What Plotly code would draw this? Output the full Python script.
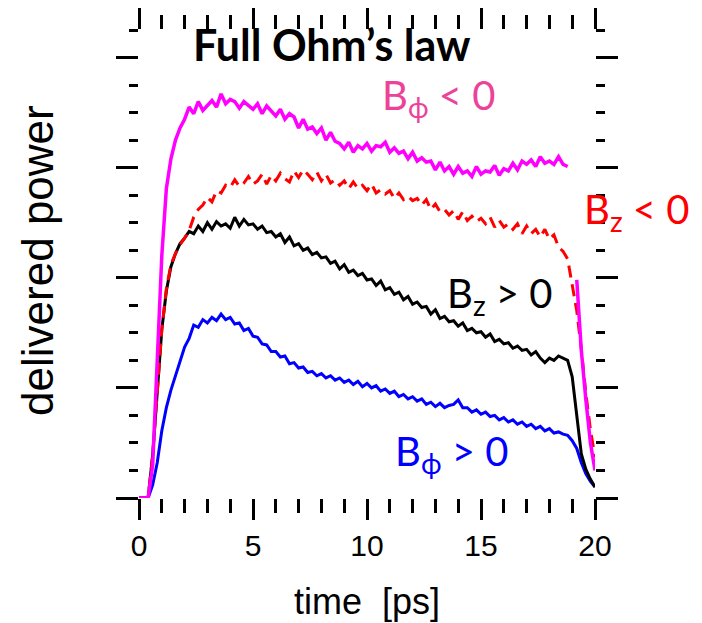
import plotly.graph_objects as go

# sampling grid (ps), 0.2 ps steps
time_ps = [round(i * 0.2, 1) for i in range(101)]

# B_phi < 0 (magenta)
p_bphi_neg = [
    0, 0, 0, 0.30, 1.29, 2.20, 2.81, 3.08, 3.25, 3.36,
    3.44, 3.55, 3.49, 3.60, 3.52, 3.57, 3.61, 3.55, 3.67, 3.58,
    3.62, 3.60, 3.54, 3.60, 3.56, 3.53, 3.58, 3.49, 3.56, 3.51,
    3.47, 3.53, 3.44, 3.49, 3.46, 3.36, 3.44, 3.35, 3.37, 3.31,
    3.36, 3.25, 3.32, 3.24, 3.22, 3.17, 3.23, 3.14, 3.20, 3.17,
    3.22, 3.15, 3.20, 3.19, 3.23, 3.14, 3.18, 3.13, 3.15, 3.08,
    3.14, 3.06, 3.09, 3.05, 3.06, 2.98, 3.05, 2.97, 3.01, 2.94,
    3.01, 2.95, 2.97, 2.92, 3.01, 2.94, 2.97, 2.96, 3.02, 2.93,
    2.99, 2.97, 3.04, 2.98, 3.06, 3.03, 3.07, 3.01, 3.10, 3.04,
    3.06, 3.03, 3.10, 3.03, 3.01, None, 1.98, 1.34, 0.89, 0.50,
    0.25,
]

# B_z < 0 (red dashed)
p_bz_neg = [
    0, 0, 0, 0.39, 0.96, 1.53, 1.90, 2.12, 2.22, 2.30,
    2.36, 2.43, 2.55, 2.62, 2.66, 2.73, 2.69, 2.79, 2.77, 2.84,
    2.82, 2.89, 2.83, 2.86, 2.92, 2.85, 2.88, 2.94, 2.85, 2.93,
    2.88, 2.95, 2.90, 2.87, 2.97, 2.91, 2.98, 2.94, 2.89, 2.96,
    2.88, 2.94, 2.86, 2.89, 2.84, 2.88, 2.81, 2.87, 2.81, 2.84,
    2.79, 2.85, 2.77, 2.80, 2.76, 2.79, 2.72, 2.77, 2.71, 2.74,
    2.70, 2.72, 2.66, 2.71, 2.62, 2.67, 2.60, 2.62, 2.57, 2.61,
    2.53, 2.60, 2.52, 2.56, 2.51, 2.54, 2.49, 2.55, 2.46, 2.52,
    2.46, 2.49, 2.44, 2.49, 2.40, 2.47, 2.40, 2.44, 2.37, 2.44,
    2.35, 2.39, 2.28, 2.24, 2.17, 1.95, 1.70, 1.35, 0.95, 0.62,
    0.37,
]

# B_z > 0 (black)
p_bz_pos = [
    0, 0, 0, 0.39, 0.96, 1.53, 1.88, 2.10, 2.22, 2.31,
    2.36, 2.42, 2.40, 2.47, 2.42, 2.50, 2.44, 2.51, 2.47, 2.49,
    2.45, 2.55, 2.47, 2.53, 2.48, 2.49, 2.44, 2.47, 2.41, 2.42,
    2.37, 2.40, 2.32, 2.37, 2.29, 2.31, 2.25, 2.27, 2.21, 2.23,
    2.18, 2.19, 2.13, 2.15, 2.08, 2.12, 2.05, 2.07, 2.02, 2.04,
    1.98, 1.99, 1.93, 1.97, 1.89, 1.91, 1.85, 1.87, 1.80, 1.83,
    1.76, 1.78, 1.73, 1.74, 1.67, 1.71, 1.63, 1.65, 1.60, 1.61,
    1.56, 1.59, 1.52, 1.54, 1.50, 1.51, 1.46, 1.49, 1.42, 1.44,
    1.40, 1.41, 1.36, 1.38, 1.34, 1.35, 1.30, 1.33, 1.27, 1.23,
    1.27, 1.25, 1.29, 1.27, 1.25, 1.10, 0.75, 0.40, 0.26, 0.17,
    0.10,
]

# B_phi > 0 (blue)
p_bphi_pos = [
    0, 0, 0, 0.12, 0.32, 0.61, 0.82, 0.98, 1.11, 1.24,
    1.37, 1.45, 1.57, 1.55, 1.62, 1.59, 1.64, 1.61, 1.67, 1.62,
    1.64, 1.58, 1.59, 1.52, 1.54, 1.47, 1.46, 1.40, 1.39, 1.33,
    1.33, 1.28, 1.29, 1.22, 1.23, 1.18, 1.19, 1.14, 1.15, 1.11,
    1.13, 1.09, 1.11, 1.07, 1.09, 1.05, 1.07, 1.03, 1.06, 1.01,
    1.04, 1.00, 1.02, 0.97, 0.99, 0.95, 0.97, 0.92, 0.94, 0.90,
    0.92, 0.88, 0.90, 0.85, 0.87, 0.83, 0.86, 0.82, 0.84, 0.85,
    0.89, 0.82, 0.82, 0.78, 0.80, 0.76, 0.78, 0.74, 0.75, 0.71,
    0.73, 0.69, 0.71, 0.67, 0.69, 0.65, 0.67, 0.63, 0.65, 0.61,
    0.63, 0.59, 0.60, 0.58, 0.57, 0.52, 0.45, 0.32, 0.22, 0.15,
    0.10,
]

x_tick_vals = [0, 5, 10, 15, 20]
x_tick_text = ["0", "5", "10", "15", "20"]
y_major_ticks = [0, 1, 2, 3, 4]
y_mid_ticks = [0.5, 1.5, 2.5, 3.5]

title_text = "<b>Full Ohm’s law</b>"
x_title = "time\u00a0 [ps]"
y_title = "delivered power"

labels = [
    # text, x, y, colour
    ("B<sub>ϕ</sub> &lt; 0", 10.55, 3.64, "#EC4399"),
    ("B<sub>z</sub> &lt; 0", 19.42, 2.60, "#FF0000"),
    ("B<sub>z</sub> &gt; 0", 13.4, 1.84, "#000000"),
    ("B<sub>ϕ</sub> &gt; 0", 11.15, 0.40, "#0000FF"),
]

fig = go.Figure()
fig.add_trace(go.Scatter(x=time_ps, y=p_bphi_pos, mode="lines",
                         line=dict(color="#0000FF", width=3), connectgaps=False))
fig.add_trace(go.Scatter(x=time_ps, y=p_bz_pos, mode="lines",
                         line=dict(color="#000000", width=3), connectgaps=False))
fig.add_trace(go.Scatter(x=time_ps, y=p_bz_neg, mode="lines",
                         line=dict(color="#FF0000", width=3, dash="12px,7px"), connectgaps=False))
fig.add_trace(go.Scatter(x=time_ps, y=p_bphi_neg, mode="lines",
                         line=dict(color="#FF00FF", width=3.5), connectgaps=False))

for txt, lx, ly, col in labels:
    fig.add_annotation(x=lx, y=ly, xref="x", yref="y", text=txt, showarrow=False,
                       xanchor="left", yanchor="middle",
                       font=dict(family="Lato", size=40, color=col))

fig.add_annotation(x=0.423, y=1.0, xref="paper", yref="paper", text=title_text,
                   showarrow=False, xanchor="center", yanchor="middle",
                   yshift=-14,
                   font=dict(family="Lato", size=43, color="#000000"))
fig.add_annotation(x=0.5, y=-0.222, xref="paper", yref="paper", text=x_title,
                   showarrow=False, xanchor="center", yanchor="middle",
                   font=dict(family="Liberation Sans", size=36, color="#000000"))
fig.add_annotation(x=-0.2223, y=0.508, xref="paper", yref="paper", text=y_title,
                   showarrow=False, xanchor="center", yanchor="middle", textangle=-90,
                   font=dict(family="Liberation Sans", size=44, color="#000000"))

fig.update_layout(
    width=702, height=623,
    margin=dict(l=139, r=107, t=30, b=125, pad=0),
    paper_bgcolor="white", plot_bgcolor="white",
    showlegend=False, hovermode=False,
    xaxis=dict(range=[0, 20], tickvals=x_tick_vals, ticktext=x_tick_text,
               ticks="outside", ticklen=21, tickwidth=3, tickcolor="black",
               minor=dict(dtick=1, tick0=0, ticks="outside", ticklen=14,
                          tickwidth=3, tickcolor="black", showgrid=False),
               mirror="ticks", showline=False, showgrid=False, zeroline=False,
               tickfont=dict(family="Liberation Sans", size=30, color="black")),
    yaxis=dict(range=[0, 4.25], tickvals=y_major_ticks, showticklabels=False,
               ticks="outside", ticklen=22, tickwidth=3, tickcolor="black",
               minor=dict(dtick=0.25, tick0=0, ticks="outside", ticklen=9,
                          tickwidth=3, tickcolor="black", showgrid=False),
               mirror="ticks", showline=False, showgrid=False, zeroline=False),
    yaxis2=dict(range=[0, 4.25], overlaying="y", anchor="x", side="left",
                tickvals=y_mid_ticks, showticklabels=False,
                ticks="outside", ticklen=14, tickwidth=3, tickcolor="black",
                mirror="ticks", showline=False, showgrid=False, zeroline=False),
)

fig.write_html("out.html", config={"displayModeBar": False})
